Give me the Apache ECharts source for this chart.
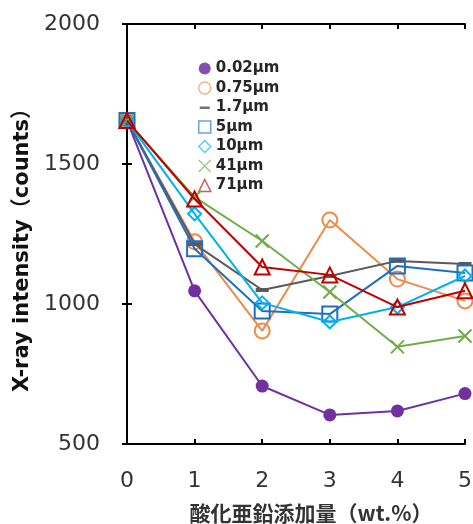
<!DOCTYPE html>
<html>
<head>
<meta charset="utf-8">
<script src="https://cdn.jsdelivr.net/npm/echarts@6/dist/echarts.min.js"></script>
<style>
  html, body { margin: 0; padding: 0; background: #fff; }
  #chart { width: 473px; height: 524px; }
</style>
</head>
<body>
<div id="chart"></div>
<script>
var xData = [0, 1, 2, 3, 4, 5]
var names = ['0.02μm', '0.75μm', '1.7μm', '5μm', '10μm', '41μm', '71μm']
var d002 = [1655, 1047, 707, 604, 618, 680]
var d075 = [1655, 1222, 904, 1300, 1089, 1011]
var d17 = [1655, 1214, 1050, 1100, 1154, 1143]
var d5 = [1655, 1197, 975, 964, 1136, 1111]
var d10 = [1655, 1322, 1004, 936, 989, 1100]
var d41 = [1655, 1382, 1225, 1043, 847, 886]
var d71 = [1655, 1375, 1132, 1104, 989, 1047]

var colors = ['#7030a0', '#f08a4b', '#595959', '#1f6fc0', '#00b0f0', '#70ad47', '#c00000']
var crossPath = 'path://M0,0L10,10M10,0L0,10'
var dashPath = 'path://M0,0M1,5L11,5L11,7.5L1,7.5ZM12,12'

var seriesData = [d002, d075, d17, d5, d10, d41, d71]
var symbols = ['circle', 'circle', 'rect', 'rect', 'diamond', crossPath, 'triangle']
var sizes = [13, 15, [13, 4], 15, 13, 13, 15]
var hollow = [false, true, false, true, true, true, true]
var legendIcons = ['circle', 'circle', dashPath, 'rect', 'diamond', crossPath, 'triangle']

var chart = echarts.init(document.getElementById('chart'))

var series = names.map(function (n, i) {
  return {
    name: n,
    type: 'line',
    data: seriesData[i].map(function (v, j) { return [xData[j], v] }),
    symbol: symbols[i],
    symbolSize: sizes[i],
    showAllSymbol: true,
    lineStyle: { color: colors[i], width: 2 },
    itemStyle: hollow[i]
      ? { color: 'transparent', borderColor: colors[i], borderWidth: 2 }
      : { color: colors[i], borderColor: colors[i], borderWidth: 0 },
    emphasis: { disabled: true },
    z: 2 + i
  }
})

var legendData = names.map(function (n, i) {
  return {
    name: n,
    icon: legendIcons[i],
    itemStyle: hollow[i]
      ? { color: 'transparent', borderColor: colors[i], borderWidth: 1.5, opacity: 0.65 }
      : { color: colors[i], borderWidth: 0, opacity: 0.85 }
  }
})

var axisLine = { show: true, lineStyle: { color: '#000', width: 2 } }
var tickStyle = { show: true, inside: true, length: 5, lineStyle: { color: '#000', width: 2 } }
var labelFont = { color: '#333', fontSize: 22, fontFamily: 'DejaVu Sans' }

var option = {
  animation: false,
  grid: { left: 127, right: 8, top: 24, bottom: 80, containLabel: false, outerBoundsMode: 'none' },
  legend: {
    data: legendData,
    orient: 'vertical',
    left: 193,
    top: 56,
    itemWidth: 12,
    itemHeight: 12,
    itemGap: 4.5,
    textStyle: { color: '#262626', fontSize: 15, fontWeight: 'bold', fontFamily: 'DejaVu Sans' }
  },
  xAxis: [
    {
      type: 'value',
      min: 0, max: 5, interval: 1,
      axisLine: axisLine,
      axisTick: tickStyle,
      splitLine: { show: false },
      axisLabel: Object.assign({ margin: 26 }, labelFont),
      name: '酸化亜鉛添加量（wt.%）',
      nameLocation: 'middle',
      nameGap: 59,
      nameTextStyle: { color: '#333', fontSize: 21, fontWeight: 'bold', fontFamily: 'Noto Sans CJK JP', padding: [0, 0, 0, 30] }
    },
    {
      type: 'value', position: 'top',
      min: 0, max: 5, interval: 1,
      axisLine: axisLine,
      axisTick: tickStyle,
      splitLine: { show: false },
      axisLabel: { show: false }
    }
  ],
  yAxis: [
    {
      type: 'value',
      min: 500, max: 2000, interval: 500,
      axisLine: axisLine,
      axisTick: tickStyle,
      splitLine: { show: false },
      axisLabel: Object.assign({ margin: 27, formatter: function (v) { return String(v) } }, labelFont),
      name: 'X-ray intensity（counts）',
      nameLocation: 'middle',
      nameGap: 86,
      nameTextStyle: { color: '#111', fontSize: 21, fontWeight: 'bold', fontFamily: 'DejaVu Sans, Noto Sans CJK JP', padding: [0, 22, 0, 0] }
    },
    {
      type: 'value', position: 'right',
      min: 500, max: 2000, interval: 500,
      axisLine: axisLine,
      axisTick: tickStyle,
      splitLine: { show: false },
      axisLabel: { show: false }
    }
  ],
  series: series
}
chart.setOption(option)
</script>
</body>
</html>
